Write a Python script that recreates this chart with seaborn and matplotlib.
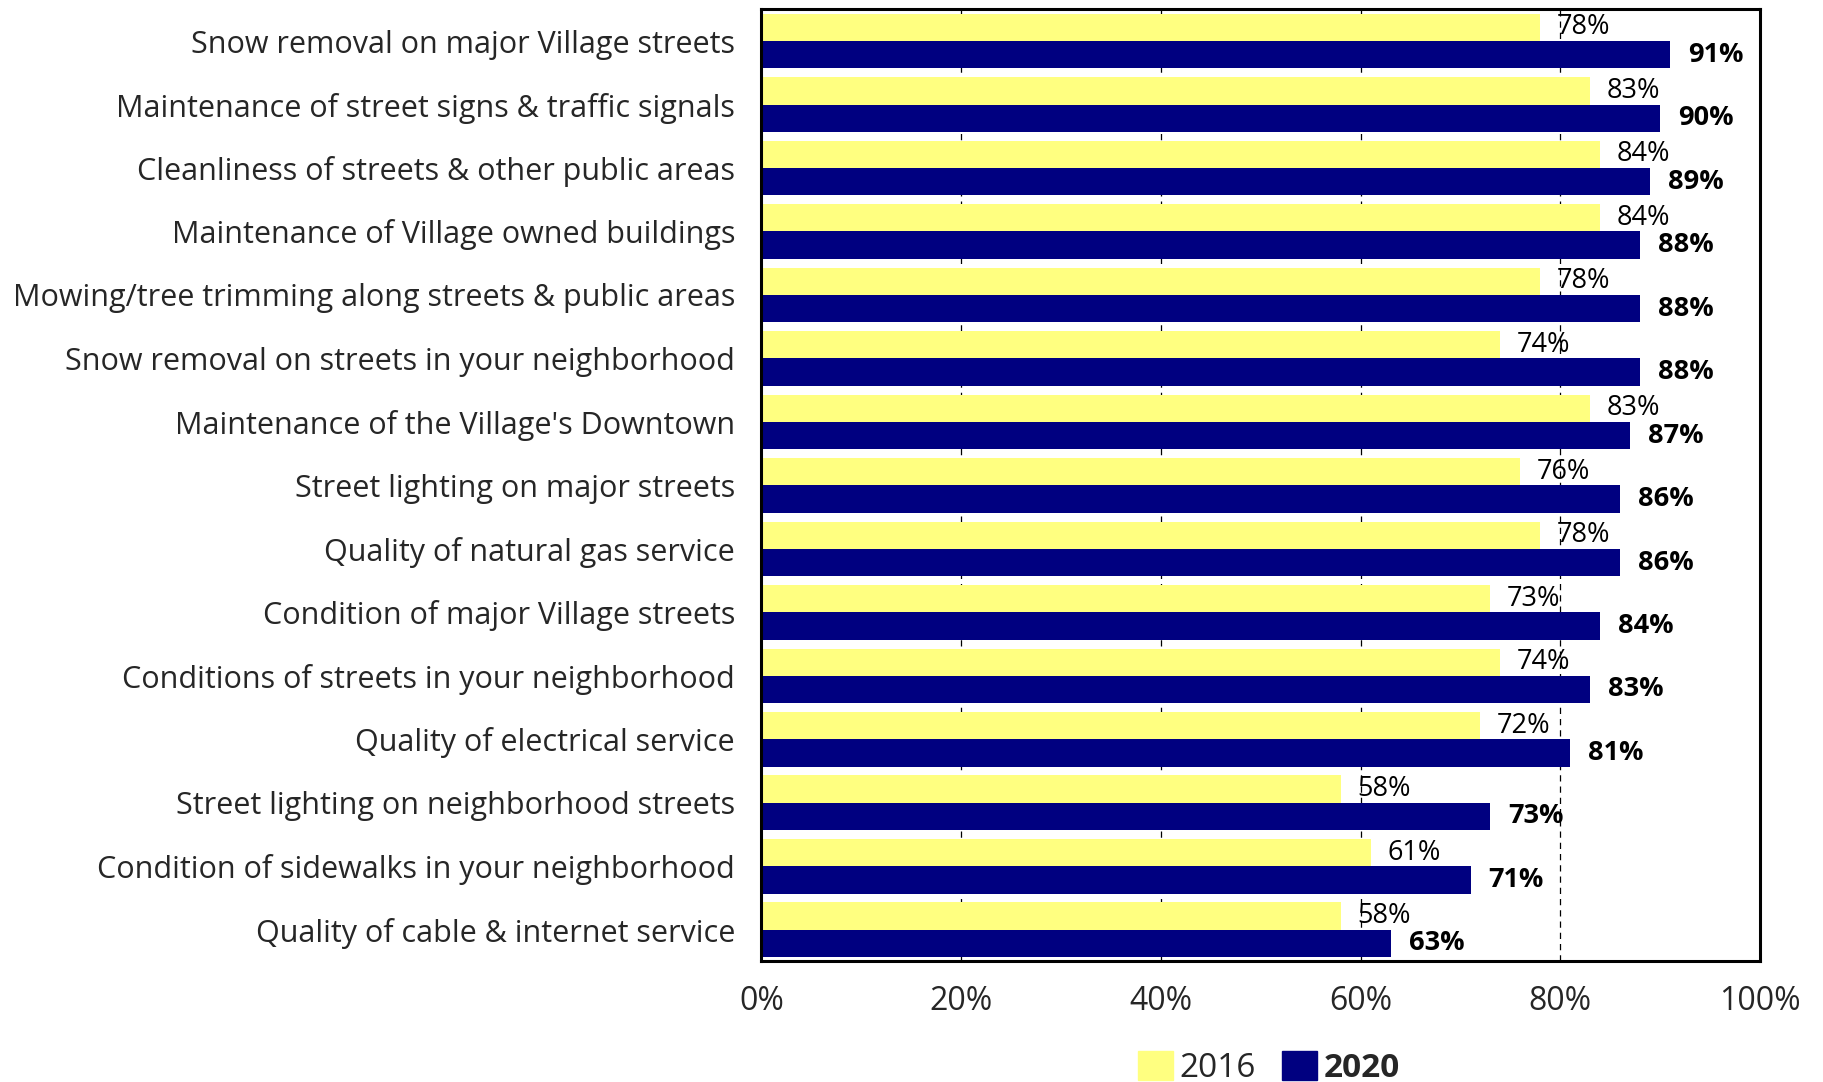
import matplotlib
matplotlib.use("Agg")
import matplotlib.pyplot as plt
import seaborn as sns
import pandas as pd
from matplotlib.ticker import FuncFormatter

services = [
    "Snow removal on major Village streets",
    "Maintenance of street signs & traffic signals",
    "Cleanliness of streets & other public areas",
    "Maintenance of Village owned buildings",
    "Mowing/tree trimming along streets & public areas",
    "Snow removal on streets in your neighborhood",
    "Maintenance of the Village's Downtown",
    "Street lighting on major streets",
    "Quality of natural gas service",
    "Condition of major Village streets",
    "Conditions of streets in your neighborhood",
    "Quality of electrical service",
    "Street lighting on neighborhood streets",
    "Condition of sidewalks in your neighborhood",
    "Quality of cable & internet service",
]
pct_2016 = [78, 83, 84, 84, 78, 74, 83, 76, 78, 73, 74, 72, 58, 61, 58]
pct_2020 = [91, 90, 89, 88, 88, 88, 87, 86, 86, 84, 83, 81, 73, 71, 63]
years = ["2016", "2020"]
x_ticks = [0, 20, 40, 60, 80, 100]

df = pd.DataFrame({
    "service": services * 2,
    "year": [years[0]] * len(services) + [years[1]] * len(services),
    "pct": pct_2016 + pct_2020,
})

sns.set_theme(style="white")
plt.rcParams["font.family"] = ["Open Sans", "DejaVu Sans"]

fig = plt.figure(figsize=(18.23, 10.82), dpi=100)
ax = fig.add_axes([0.4177, 0.1114, 0.5478, 0.88])

sns.barplot(
    data=df, y="service", x="pct", hue="year", order=services,
    hue_order=years, palette=["#FFFF80", "#000080"], orient="h",
    width=0.86, gap=0, saturation=1, linewidth=0, ax=ax, legend=True,
)

ax.set_xlim(0, 100)
ax.set_ylim(len(services) - 0.5, -0.5)
ax.set_xticks(x_ticks)
ax.xaxis.set_major_formatter(FuncFormatter(lambda v, _: f"{v:.0f}%"))
ax.set_xlabel("")
ax.set_ylabel("")
ax.tick_params(axis="x", length=0, pad=17, labelsize=23)
ax.tick_params(axis="y", length=0, pad=19, labelsize=22)

ax.set_axisbelow(True)
ax.xaxis.grid(True, color="black", linewidth=0.9, linestyle=(0, (5, 4)))
for s in ax.spines.values():
    s.set_visible(True)
    s.set_color("black")
    s.set_linewidth(2.2)

# value labels at the bar ends
ax.bar_label(ax.containers[0], labels=[f"{v}%" for v in pct_2016],
             padding=12, fontsize=19.5, color="black")
ax.bar_label(ax.containers[1], labels=[f"{v}%" for v in pct_2020],
             padding=13, fontsize=19.5, fontweight="bold", color="black")

ax.get_legend().remove()
handles = [plt.Rectangle((0, 0), 1, 1, color=c) for c in ["#FFFF80", "#000080"]]
leg = fig.legend(handles, years, loc="lower center", bbox_to_anchor=(0.696, -0.003),
                 ncol=2, frameon=False, fontsize=24, handlelength=1.05,
                 handleheight=0.95, handletextpad=0.18, columnspacing=0.8,
                 borderpad=0.0, borderaxespad=0)
leg.get_texts()[1].set_fontweight("bold")

fig.savefig("out.png", dpi=100)
